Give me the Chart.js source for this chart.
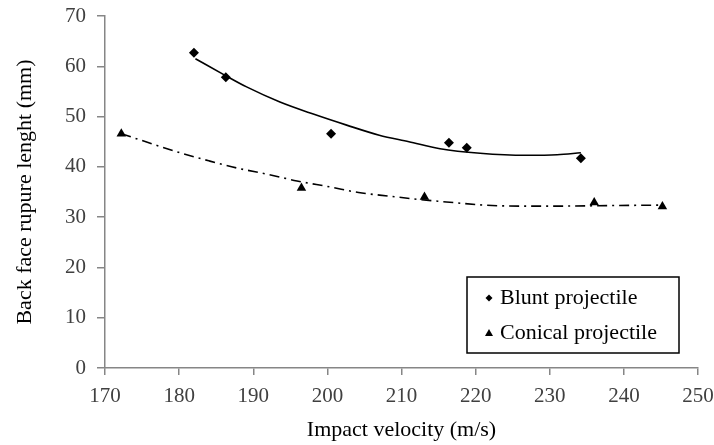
<!DOCTYPE html>
<html>
<head>
<meta charset="utf-8">
<script src="https://cdn.jsdelivr.net/npm/chart.js@4/dist/chart.umd.min.js"></script>
<style>
  html, body { margin: 0; padding: 0; background: #ffffff; }
  #wrap { width: 714px; height: 445px; }
</style>
</head>
<body>
<div id="wrap"><canvas id="c" width="714" height="445"></canvas></div>
<script>
// ---- Data ----
const bluntVelocity   = [182.0, 186.3, 200.5, 216.4, 218.8, 234.2];
const bluntLength     = [62.7, 57.8, 46.6, 44.8, 43.8, 41.7];
const conicalVelocity = [172.2, 196.5, 213.1, 236.0, 245.2];
const conicalLength   = [46.6, 35.8, 34.0, 32.9, 32.1];

// Trend curves
const bluntTrendVelocity   = [182.2, 186.2, 189.1, 193.6, 198.1, 202.6, 207.0, 211.0, 215.2, 220.6, 226.8, 231.0, 234.2];
const bluntTrendLength     = [61.5, 58.2, 55.9, 52.9, 50.5, 48.3, 46.3, 45.0, 43.6, 42.7, 42.3, 42.4, 42.8];
const conicalTrendVelocity = [172.2, 176.5, 180.1, 184.0, 188.0, 192.0, 195.9, 200.4, 204.2, 208.2, 212.5, 217.0, 221.0, 226.0, 232.0, 238.0, 245.2];
const conicalTrendLength   = [46.6, 44.5, 42.8, 41.2, 39.7, 38.5, 37.2, 36.0, 34.9, 34.2, 33.5, 32.9, 32.4, 32.2, 32.2, 32.3, 32.4];

const xTicks = [170, 180, 190, 200, 210, 220, 230, 240, 250];
const yTicks = [0, 10, 20, 30, 40, 50, 60, 70];

const seriesNames = ['Blunt projectile', 'Conical projectile'];
const xTitle = 'Impact velocity (m/s)';
const yTitle = 'Back face rupure lenght (mm)';

const toPts = (xs, ys) => xs.map((x, i) => ({ x: x, y: ys[i] }));

const FONT = "'Liberation Serif', 'Times New Roman', serif";

const legendPlugin = {
  id: 'boxLegend',
  afterDraw(chart) {
    const ctx = chart.ctx;
    const a = chart.chartArea;
    const w = 212, h = 76;
    const x0 = a.right - 19 - w, y0 = a.bottom - 15 - h;
    ctx.save();
    ctx.strokeStyle = '#000';
    ctx.lineWidth = 1.5;
    ctx.strokeRect(x0, y0, w, h);
    ctx.fillStyle = '#000';
    ctx.font = '22px ' + FONT;
    ctx.textBaseline = 'middle';
    ctx.textAlign = 'left';
    const rows = [y0 + 21, y0 + 56];
    // diamond
    const mx = x0 + 22;
    ctx.beginPath();
    ctx.moveTo(mx, rows[0] - 3.5); ctx.lineTo(mx + 3.5, rows[0]);
    ctx.lineTo(mx, rows[0] + 3.5); ctx.lineTo(mx - 3.5, rows[0]);
    ctx.closePath(); ctx.fill();
    // triangle
    ctx.beginPath();
    ctx.moveTo(mx, rows[1] - 4); ctx.lineTo(mx + 4, rows[1] + 3);
    ctx.lineTo(mx - 4, rows[1] + 3); ctx.closePath(); ctx.fill();
    ctx.fillText(seriesNames[0], x0 + 33, rows[0]);
    ctx.fillText(seriesNames[1], x0 + 33, rows[1]);
    ctx.restore();
  }
};

new Chart(document.getElementById('c'), {
  type: 'scatter',
  data: {
    datasets: [
      {
        label: seriesNames[0] + ' trend',
        data: toPts(bluntTrendVelocity, bluntTrendLength),
        showLine: true, pointRadius: 0, borderColor: '#000', borderWidth: 1.6,
        cubicInterpolationMode: 'monotone', fill: false
      },
      {
        label: seriesNames[1] + ' trend',
        data: toPts(conicalTrendVelocity, conicalTrendLength),
        showLine: true, pointRadius: 0, borderColor: '#000', borderWidth: 1.6,
        borderDash: [10, 5, 2, 5],
        cubicInterpolationMode: 'monotone', fill: false
      },
      {
        label: seriesNames[0],
        data: toPts(bluntVelocity, bluntLength),
        pointStyle: 'rectRot', pointRadius: 5,
        backgroundColor: '#000', borderColor: '#000', borderWidth: 0
      },
      {
        label: seriesNames[1],
        data: toPts(conicalVelocity, conicalLength),
        pointStyle: 'triangle', pointRadius: 5.5,
        backgroundColor: '#000', borderColor: '#000', borderWidth: 0
      }
    ]
  },
  options: {
    responsive: false,
    animation: false,
    events: [],
    layout: { padding: { top: 16, right: 16, left: 0, bottom: 0 } },
    plugins: { legend: { display: false }, tooltip: { enabled: false } },
    scales: {
      x: {
        type: 'linear', min: 170, max: 250,
        afterBuildTicks: s => { s.ticks = xTicks.map(v => ({ value: v })); },
        afterFit: s => { s.height = 77; s.paddingLeft = 0; s.paddingRight = 0; },
        grid: { drawOnChartArea: false, drawTicks: true, tickLength: 7, color: '#868686', lineWidth: 1.5 },
        border: { color: '#868686', width: 1.5 },
        ticks: { color: '#404040', font: { family: FONT, size: 21 }, padding: 9, maxRotation: 0 },
        title: { display: true, text: xTitle, color: '#000', font: { family: FONT, size: 22 }, padding: { top: 0, bottom: 2 } }
      },
      y: {
        type: 'linear', min: 0, max: 70,
        afterBuildTicks: s => { s.ticks = yTicks.map(v => ({ value: v })); },
        afterFit: s => { s.width = 105; s.paddingTop = 0; s.paddingBottom = 0; },
        grid: { drawOnChartArea: false, drawTicks: true, tickLength: 8, color: '#868686', lineWidth: 1.5 },
        border: { color: '#868686', width: 1.5 },
        ticks: { color: '#404040', font: { family: FONT, size: 21 }, padding: 11 },
        title: { display: true, text: yTitle, color: '#000', font: { family: FONT, size: 22 }, padding: { top: 12, bottom: 0 } }
      }
    }
  },
  plugins: [legendPlugin]
});
</script>
</body>
</html>
